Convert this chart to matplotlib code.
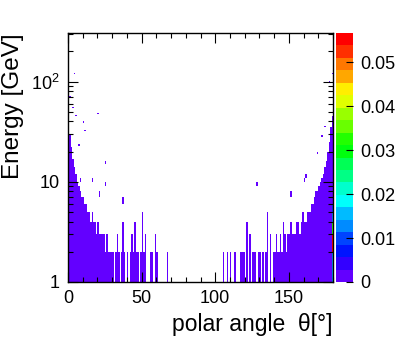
import colorsys
import numpy as np
import matplotlib
matplotlib.use('Agg')
import matplotlib.pyplot as plt
from matplotlib.colors import ListedColormap, BoundaryNorm
from matplotlib.ticker import FixedLocator, FixedFormatter, MultipleLocator, NullFormatter

plt.rcParams['font.family'] = ['Liberation Sans', 'DejaVu Sans']
plt.rcParams['mathtext.fontset'] = 'custom'
plt.rcParams['mathtext.rm'] = 'Liberation Sans'

# upper energy edge (GeV) of the filled band in each 1-degree theta bin, 0 = empty
col_top = [40, 30, 22, 17, 14, 12, 10, 9, 8, 7,
           7, 6, 6, 5, 5, 4, 5, 4, 4, 3,
           4, 3, 3, 3, 3, 2, 3, 2, 2, 2,
           2, 0, 2, 3, 2, 0, 2, 4, 2, 0,
           2, 0, 2, 3, 2, 4, 2, 2, 0, 2,
           5, 2, 3, 0, 0, 0, 2, 2, 0, 3,
           2, 0, 0, 0, 0, 0, 0, 2, 0, 0,
           0, 0, 0, 0, 0, 0, 0, 0, 0, 0,
           0, 0, 0, 0, 0, 0, 0, 0, 0, 0,
           0, 0, 0, 0, 0, 0, 0, 0, 0, 0,
           0, 0, 0, 0, 0, 2, 0, 0, 2, 0,
           2, 0, 0, 2, 0, 0, 0, 2, 2, 2,
           0, 4, 0, 3, 0, 2, 2, 2, 0, 2,
           2, 0, 2, 0, 2, 5, 0, 3, 0, 2,
           2, 3, 2, 2, 3, 2, 4, 3, 2, 3,
           3, 4, 3, 3, 3, 4, 4, 3, 4, 5,
           4, 4, 5, 5, 5, 6, 6, 7, 8, 8,
           9, 10, 11, 12, 14, 16, 20, 25, 35, 45]

# isolated cells above the band
out_theta = [0, 0, 1, 2, 4, 3, 5, 7, 10, 11, 20, 25, 8, 16, 25, 21, 37,
             144, 128, 151, 160, 161, 169, 172, 174, 176, 177, 178, 178, 179]
out_energy = [200, 100, 70, 150, 120, 55, 45, 23, 39, 32, 47, 15, 10, 10, 9, 7, 6,
              62, 9, 7, 10, 11, 19, 28, 35, 65, 100, 150, 200, 120]

# cells with larger content in the edge columns
edge_theta = [0, 0, 0, 0, 0, 179, 179, 179, 179, 179]
edge_energy = [1, 2, 3, 4, 5, 1, 2, 3, 4, 5]
edge_value = [0.014, 0.016, 0.030, 0.012, 0.009, 0.012, 0.055, 0.033, 0.014, 0.010]

base_value = 0.0012
zmax = 0.0566
cbar_ticks = [0, 0.01, 0.02, 0.03, 0.04, 0.05]
cbar_labels = ['0', '0.01', '0.02', '0.03', '0.04', '0.05']

theta_edges = np.arange(0, 181)
e_edges = np.arange(1, 311)
H = np.zeros((len(e_edges) - 1, len(theta_edges) - 1))
for i, t in enumerate(col_top):
    if t > 1:
        H[0:t - 1, i] = base_value
for t, e in zip(out_theta, out_energy):
    H[int(e) - 1, t] = base_value
for t, e, v in zip(edge_theta, edge_energy, edge_value):
    H[e - 1, t] = v
Hm = np.ma.masked_equal(H, 0)

# ROOT pretty palette, 20 contour levels
ndiv = 20
cols = []
for k in range(ndiv):
    p = int((k + 0.99) * 50 / ndiv)
    hue = 280 - (p + 1) * 5.6
    cols.append(colorsys.hls_to_rgb(max(hue, 0) / 360, 0.5, 1.0))
cmap = ListedColormap(cols)
levels = np.linspace(0, zmax, ndiv + 1)
norm = BoundaryNorm(levels, ndiv)

fig = plt.figure(figsize=(4.07, 3.44), dpi=100)
ax = fig.add_axes([68 / 407, 62 / 344, 265 / 407, 249 / 344])
cax = fig.add_axes([336 / 407, 62 / 344, 17 / 407, 249 / 344])

mesh = ax.pcolormesh(theta_edges, e_edges, Hm, cmap=cmap, norm=norm,
                     shading='flat', antialiased=False)
ax.set_yscale('log')
ax.set_xlim(0, 180)
ax.set_ylim(1, 305)

ax.xaxis.set_major_locator(MultipleLocator(50))
ax.xaxis.set_minor_locator(MultipleLocator(10))
ax.yaxis.set_major_locator(FixedLocator([1, 10, 100]))
ax.yaxis.set_major_formatter(FixedFormatter(['1', '10', '$10^2$']))
ax.yaxis.set_minor_locator(FixedLocator([2, 3, 4, 5, 6, 7, 8, 9,
                                         20, 30, 40, 50, 60, 70, 80, 90, 200, 300]))
ax.yaxis.set_minor_formatter(NullFormatter())
ax.tick_params(which='both', direction='in', top=True, right=True,
               labelsize=13, width=0.8)
ax.tick_params(which='major', length=7, pad=6)
ax.tick_params(which='minor', length=3.5)
for s in ax.spines.values():
    s.set_linewidth(1.0)

cb = fig.colorbar(mesh, cax=cax, ticks=cbar_ticks)
cb.outline.set_visible(False)
cb.ax.set_yticklabels(cbar_labels)
cb.ax.tick_params(direction='in', length=5, width=0.8, labelsize=13, pad=5)
cb.ax.minorticks_off()

fig.text(332 / 407, 1 - 325 / 344, 'polar angle  θ[°]', ha='right', va='center',
         fontsize=16.5)
fig.text(13 / 407, 1 - 33 / 344, 'Energy [GeV]', rotation=90, ha='center',
         va='top', fontsize=17.5)

fig.savefig('out.png', dpi=100)
